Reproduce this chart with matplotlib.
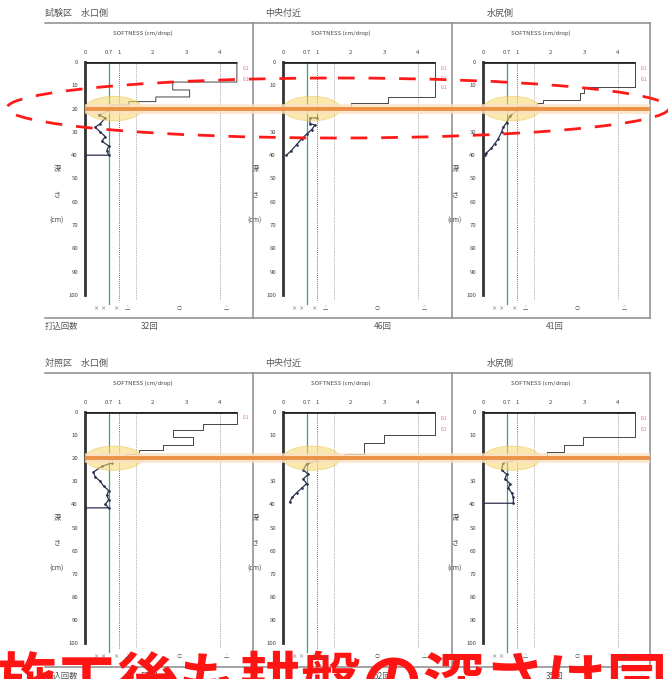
import numpy as np
import matplotlib
matplotlib.use("Agg")
import matplotlib.pyplot as plt
from matplotlib.patches import Ellipse
from matplotlib import transforms

plt.rcParams['font.family'] = ['Noto Sans CJK JP', 'DejaVu Sans']

W, H = 668, 679

# 横軸の目盛
tick_pos = [0, 0.7, 1, 2, 3, 4]
tick_lab = ['0', '0.7', '1', '2', '3', '4']
depth_ticks = list(range(0, 101, 10))

# 判定記号 (下端)
mark_x = [0.33, 0.53, 0.9, 1.27, 2.8, 4.2]
mark_t = ['×', '×', '×', '△', '○', '△']

titles_top = ['試験区　水口側', '中央付近', '水尻側']
titles_bot = ['対照区　水口側', '中央付近', '水尻側']
counts_top = ['32回', '46回', '41回']
counts_bot = ['52回', '52回', '35回']

# 硬度プロファイル (上部の階段部分 / 下部の細かい部分)
prof = {
    'TL': ([0, 4.5, 4.5, 2.6, 2.6, 3.1, 3.1, 2.1, 2.1, 1.3, 1.3, 0.8, 0.8, 0.7],
           [0, 0, 8.6, 8.6, 12, 12, 15, 15, 17, 17, 18.5, 18.5, 20, 21],
           [0.7, 0.4, 0.6, 0.45, 0.3, 0.45, 0.6, 0.5, 0.7, 0.65, 0.7, 0],
           [21, 22.7, 24, 26.5, 28, 30, 32, 34, 36, 38, 40, 40]),
    'TM': ([0, 4.5, 4.5, 3.1, 3.1, 2.0, 2.0, 1.0, 1.0],
           [0, 0, 15.2, 15.2, 17.7, 17.7, 19.5, 19.5, 24],
           [1.0, 0.8, 0.8, 0.95, 0.85, 0.7, 0.55, 0.4, 0.25, 0.1],
           [24, 24, 26.5, 27, 29, 31, 33, 35.5, 38, 40]),
    'TR': ([0, 4.5, 4.5, 3.0, 3.0, 2.87, 2.87, 1.78, 1.78, 1.6, 1.6, 1.0, 1.0],
           [0, 0, 10.9, 10.9, 13.4, 13.4, 16.3, 16.3, 17.7, 17.7, 19, 19, 21],
           [1.0, 0.8, 0.7, 0.6, 0.55, 0.45, 0.35, 0.25, 0.1, 0.05],
           [21, 23, 26, 28, 30, 33, 35, 37, 39, 40]),
    'BL': ([0, 4.5, 4.5, 3.5, 3.5, 2.6, 2.6, 3.2, 3.2, 2.3, 2.3, 1.6, 1.6, 1.2, 1.2, 0.8, 0.8],
           [0, 0, 5, 5, 7.8, 7.8, 11, 11, 14.4, 14.4, 16.5, 16.5, 18, 18, 19.5, 19.5, 22],
           [0.8, 0.5, 0.25, 0.3, 0.45, 0.55, 0.7, 0.65, 0.7, 0.6, 0.7, 0],
           [22, 23.5, 26, 28, 30, 32, 34, 36, 38, 40, 41.5, 41.5]),
    'BM': ([0, 4.5, 4.5, 3.0, 3.0, 2.4, 2.4, 1.85, 1.85, 1.0, 1.0],
           [0, 0, 10, 10, 13.5, 13.5, 18, 18, 19.5, 19.5, 21],
           [1.0, 0.7, 0.6, 0.75, 0.6, 0.7, 0.55, 0.4, 0.27, 0.2],
           [21, 22.5, 25, 27, 29, 31, 33, 35, 37, 39]),
    'BR': ([0, 4.5, 4.5, 2.96, 2.96, 2.4, 2.4, 1.9, 1.9, 1.2, 1.2],
           [0, 0, 11, 11, 14.4, 14.4, 17.3, 17.3, 19, 19, 20],
           [1.2, 0.6, 0.55, 0.7, 0.65, 0.8, 0.75, 0.85, 0.9, 0.9, 0],
           [20, 22, 25, 27, 29, 31, 33, 35, 37, 39.5, 39.5]),
}
pink_depths = {'TL': [3, 7.5], 'TM': [3, 7, 11], 'TR': [3, 7.5],
               'BL': [2.5], 'BM': [3, 7.5], 'BR': [3, 7.5]}

fig = plt.figure(figsize=(W / 100, H / 100), dpi=100)
bg = fig.add_axes([0, 0, 1, 1], zorder=0)
bg.set_xlim(0, W)
bg.set_ylim(H, 0)
bg.axis('off')

UNIT = 33.75
XMAX = 4.8
grey = '#8a8a8a'
txt = '#555555'

rows = [
    dict(top=23, bot=318, y0=62, y1=295, keys=['TL', 'TM', 'TR'],
         titles=titles_top, counts=counts_top, cy=326),
    dict(top=373, bot=667, y0=412, y1=643, keys=['BL', 'BM', 'BR'],
         titles=titles_bot, counts=counts_bot, cy=676),
]
xs0 = [85, 283, 483]
head_x = [45, 265, 487]
count_x = [150, 383, 555]

panel_axes = []
for r in rows:
    # 枠線
    bg.plot([45, 650], [r['top'], r['top']], color=grey, lw=1.1, zorder=5)
    bg.plot([45, 650], [r['bot'], r['bot']], color=grey, lw=1.1, zorder=5)
    for xv in [253, 452, 650]:
        bg.plot([xv, xv], [r['top'], r['bot']], color=grey, lw=1.1, zorder=5)
    bg.text(45, r['cy'], '打込回数', fontsize=6, color=txt, va='center', ha='left')
    row_axes = []
    for i, key in enumerate(r['keys']):
        x0 = xs0[i]
        bg.text(head_x[i], r['top'] - 10, r['titles'][i], fontsize=6.5, color=txt,
                va='center', ha='left')
        bg.text(x0 + 58, r['y0'] - 29, 'SOFTNESS (cm/drop)', fontsize=4.3,
                color='#444444', va='center', ha='center')
        bg.text(count_x[i], r['cy'], r['counts'][i], fontsize=6, color=txt,
                va='center', ha='center')
        hpx = r['y1'] - r['y0']
        for lab, dd in zip(['深', 'さ', '(cm)'], [46, 57, 68]):
            bg.text(x0 - 28, r['y0'] + dd * hpx / 100, lab, fontsize=5,
                    color='#444444', va='center', ha='center', zorder=2)

        ax = fig.add_axes([x0 / W, 1 - r['y1'] / H, XMAX * UNIT / W, hpx / H],
                          zorder=2)
        ax.patch.set_alpha(0)
        ax.set_xlim(0, XMAX)
        ax.set_ylim(100, 0)
        for s in ['top', 'right', 'bottom']:
            ax.spines[s].set_visible(False)
        ax.spines['left'].set_linewidth(2.0)
        ax.spines['left'].set_color('#333333')
        ax.xaxis.tick_top()
        ax.set_xticks(tick_pos)
        ax.set_xticklabels(tick_lab)
        ax.set_yticks(depth_ticks)
        ax.set_yticklabels([str(v) for v in depth_ticks])
        ax.tick_params(axis='both', length=0, labelsize=4.3, colors='#444444')
        ax.tick_params(axis='x', pad=5)
        ax.tick_params(axis='y', pad=5)

        # 基準線
        ax.plot([0.7, 0.7], [0, 104], color='#3aa37a', lw=0.9, clip_on=False)
        ax.plot([1, 1], [0, 102], color='#444444', lw=0.6, ls=(0, (1, 1.5)),
                clip_on=False)
        ax.plot([1.5, 1.5], [0, 102], color='#777777', lw=0.5, ls=(0, (1, 1.5)),
                clip_on=False)
        ax.plot([4, 4], [0, 102], color='#666666', lw=0.5, ls=(0, (1, 1.5)),
                clip_on=False)

        xu, du, xl, dl = prof[key]
        ax.plot(xu[:2], du[:2], color='#222222', lw=2.0, solid_capstyle='butt',
                zorder=4)
        ax.plot(xu[1:], du[1:], color='#444444', lw=0.7, zorder=4)
        ax.plot(xl, dl, color='#2a3050', lw=0.9, marker='.', ms=1.8, zorder=4)

        for pdp in pink_depths[key]:
            ax.text(4.68, pdp, '0.1', fontsize=3.3, color='#e0609a',
                    va='center', ha='left', clip_on=False)

        for mx, mt in zip(mark_x, mark_t):
            ax.text(mx, 106, mt, fontsize=3.8, color='#555555', ha='center',
                    va='center', clip_on=False)

        ax.add_patch(Ellipse((0.85, 20), 1.7, 10.5, facecolor='#f7d66a',
                             edgecolor='#e9c24a', lw=0.6, alpha=0.55,
                             clip_on=False, zorder=6))
        row_axes.append(ax)
    panel_axes.append(row_axes)

# 重ね描き用
ov = fig.add_axes([0, 0, 1, 1], zorder=10)
ov.set_xlim(0, W)
ov.set_ylim(H, 0)
ov.axis('off')
ov.patch.set_alpha(0)

for row_axes in panel_axes:
    tr = transforms.blended_transform_factory(ov.transData, row_axes[0].transData)
    ov.plot([85, 650], [20, 20], transform=tr, color='#fbe0c4', lw=7,
            alpha=0.8, solid_capstyle='butt')
    ov.plot([85, 650], [20, 20], transform=tr, color='#ec9246', lw=2.8,
            solid_capstyle='butt')

ov.add_patch(Ellipse((338, 108), 662, 60, fill=False, edgecolor='#ff1a1a',
                     lw=2.0, ls=(0, (6, 5))))

bg.text(-4, 654, '施工後も耕盤の深さは同じ', fontsize=44, color='#ff1414',
        va='top', ha='left', fontweight='bold', zorder=20)

fig.savefig('out.png', dpi=100)
